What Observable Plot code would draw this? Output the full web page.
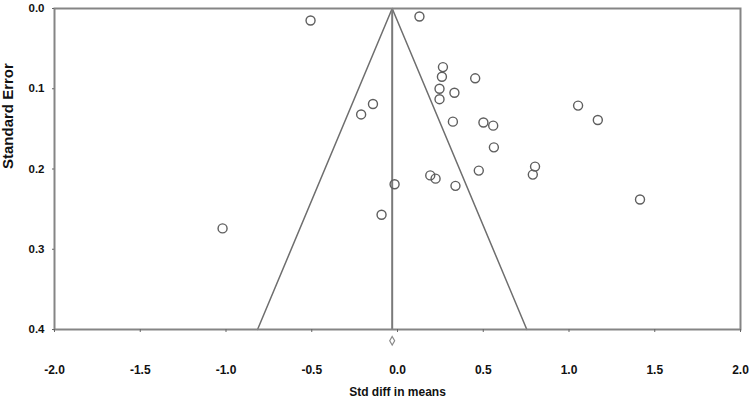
<!DOCTYPE html>
<html>
<head>
<meta charset="utf-8">
<script src="https://cdn.jsdelivr.net/npm/d3@7"></script>
<script src="https://cdn.jsdelivr.net/npm/@observablehq/plot@0.6"></script>
<style>
  html, body { margin: 0; padding: 0; background: #fff; }
  #chart { width: 750px; height: 402px; }
</style>
</head>
<body>
<div id="chart"></div>
<script>
// Study effect sizes (Std diff in means) and standard errors
const studyEffect = [-0.507, 0.128, 0.265, 0.259, 0.453, 0.245, 0.332, 0.245, -0.143, -0.212,
                     0.323, 1.053, 1.168, 0.501, 0.558, 0.562, 0.802, 0.789, 0.474, 0.338,
                     0.191, 0.222, -0.017, -0.093, -1.020, 1.414];
const studySE     = [0.015, 0.010, 0.073, 0.085, 0.087, 0.100, 0.105, 0.113, 0.119, 0.132,
                     0.141, 0.121, 0.139, 0.142, 0.146, 0.173, 0.197, 0.207, 0.202, 0.221,
                     0.208, 0.212, 0.219, 0.257, 0.274, 0.238];

// Summary effect (diamond) and funnel outline
const summaryEffect = -0.031;
const summaryY = 0.414;
const funnelX = [-0.816, -0.031, 0.754];
const funnelY = [0.4, 0.0, 0.4];
const centerLineY = [0.0, 0.4];

// Tick values
const xTicks = [-2.0, -1.5, -1.0, -0.5, 0.0, 0.5, 1.0, 1.5, 2.0];
const yTicks = [0.0, 0.1, 0.2, 0.3, 0.4];

const xTitle = "Std diff in means";
const yTitle = "Standard Error";

const studies = studyEffect.map((x, i) => ({x, se: studySE[i]}));
const funnel = funnelX.map((x, i) => ({x, y: funnelY[i]}));
const fmt = d => d.toFixed(1);

const chart = Plot.plot({
  width: 750,
  height: 402,
  marginLeft: 54,
  marginRight: 10,
  marginTop: 8,
  marginBottom: 73,
  style: {fontFamily: "'Liberation Sans', Arial, sans-serif", background: "#fff", color: "#111"},
  x: {domain: [-2, 2]},
  y: {domain: [0, 0.4], reverse: true},
  marks: [
    Plot.line(funnel, {x: "x", y: "y", stroke: "#6e6e6e", strokeWidth: 1.5}),
    Plot.ruleX([summaryEffect], {y1: centerLineY[0], y2: centerLineY[1], stroke: "#7a7a7a", strokeWidth: 2}),
    Plot.frame({stroke: "#858585", strokeWidth: 2}),
    Plot.axisX({ticks: xTicks, tickFormat: fmt, tickSize: 3, tickPadding: 33, fontSize: 12, fontWeight: "bold", stroke: "#666", label: null}),
    Plot.axisY({ticks: yTicks, tickFormat: fmt, tickSize: 2, tickPadding: 8, fontSize: 11.5, fontWeight: "bold", stroke: "#666", label: null}),
    Plot.dot(studies, {x: "x", y: "se", r: 4.5, stroke: "#5e5e5e", strokeWidth: 1.4, fill: "none"}),
    Plot.dot([summaryEffect], {x: d => d, y: () => summaryY, symbol: "diamond", r: 2.6, stroke: "#8a8a8a", strokeWidth: 1.2, fill: "none"}),
    Plot.text([xTitle], {frameAnchor: "bottom", dy: 66.5, fontSize: 12, fontWeight: "bold", fill: "#111"}),
    Plot.text([yTitle], {frameAnchor: "left", dx: -46, rotate: -90, fontSize: 15, fontWeight: "bold", fill: "#111"})
  ]
});
document.getElementById("chart").appendChild(chart);
</script>
</body>
</html>
